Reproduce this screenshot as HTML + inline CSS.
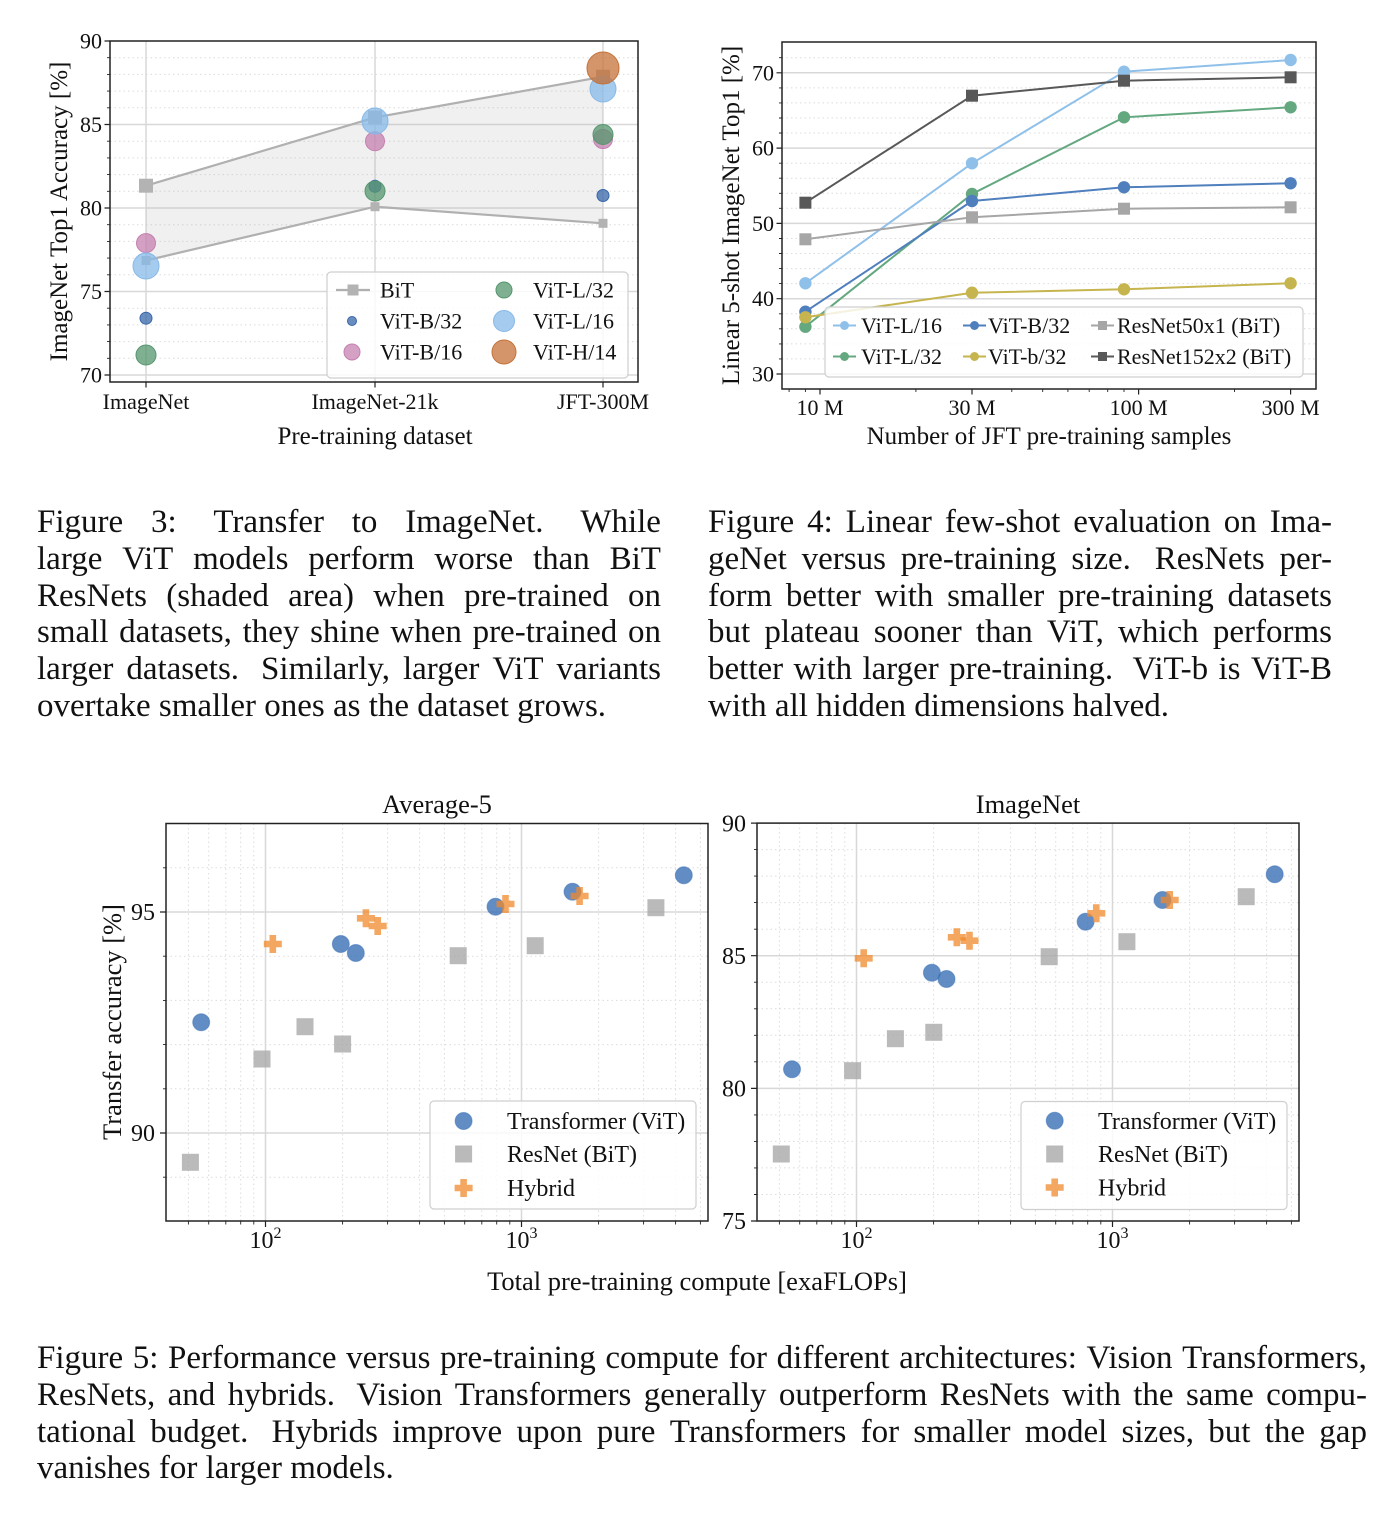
<!DOCTYPE html>
<html><head><meta charset="utf-8">
<style>
html,body{margin:0;padding:0;background:#fff}
body{width:1392px;height:1520px;position:relative;overflow:hidden}
svg{position:absolute;left:0;top:0}
svg text{font-family:"Liberation Serif","DejaVu Serif",serif;fill:#111}
.cap{position:absolute;font-family:"Liberation Serif","DejaVu Serif",serif;font-size:33px;color:#111}
.cap div{height:36.8px;line-height:36.8px;white-space:nowrap}
.j{display:flex;justify-content:space-between}
.j span{display:block}
.j span.e{padding-right:9px}
.vit{fill:#3a6fb5;fill-opacity:.8;stroke:#3a6fb5;stroke-opacity:.5;stroke-width:1}
.res{fill:#a6a6a6;fill-opacity:.78}
.hyb{fill:#f08a2c;fill-opacity:.75}
</style></head><body>
<svg width="1392" height="1520" viewBox="0 0 1392 1520" xmlns="http://www.w3.org/2000/svg">
<defs><path id="pl" d="M-3.3-9h6.6v5.7h5.7v6.6h-5.7v5.7h-6.6v-5.7h-5.7v-6.6h5.7z"/></defs>

<!-- ================= FIGURE 3 ================= -->
<rect x="110" y="41" width="528" height="341" fill="#fff"/>
<path stroke="#dcdcdc" stroke-width="1" stroke-dasharray="1.5 3" fill="none" d="M110 358.3H638M110 341.6H638M110 324.9H638M110 308.2H638M110 274.8H638M110 258.1H638M110 241.4H638M110 224.7H638M110 191.3H638M110 174.6H638M110 157.9H638M110 141.2H638M110 107.8H638M110 91.1H638M110 74.4H638M110 57.7H638"/>
<path stroke="#d8d8d8" stroke-width="1.5" fill="none" d="M110 375H638M110 291.5H638M110 208H638M110 124.5H638M146 41V382M375 41V382M603 41V382"/>
<polygon points="146,185.7 375,117.5 603,76.7 603,223.3 375,206.7 146,260.5" fill="#b4b4b4" fill-opacity="0.2"/>
<polyline points="146,185.7 375,117.5 603,76.7" fill="none" stroke="#b0b0b0" stroke-width="2.2"/>
<polyline points="146,260.5 375,206.7 603,223.3" fill="none" stroke="#b0b0b0" stroke-width="2.2"/>
<g fill="#b3b3b3">
<rect x="139" y="178.7" width="14" height="14"/><rect x="368" y="110.5" width="14" height="14"/><rect x="596" y="69.7" width="14" height="14"/>
<rect x="141.5" y="256" width="9" height="9"/><rect x="370.5" y="202.2" width="9" height="9"/><rect x="598.5" y="218.8" width="9" height="9"/>
</g>
<g fill-opacity="0.75" stroke-width="1">
<g fill="#3867ab" stroke="#3867ab"><circle cx="146" cy="318.2" r="6"/><circle cx="375" cy="186.3" r="6"/><circle cx="603" cy="195.5" r="6"/></g>
<g fill="#c580b0" stroke="#c580b0"><circle cx="146" cy="243.1" r="9.5"/><circle cx="375" cy="141.2" r="9.5"/><circle cx="603" cy="139" r="9.5"/></g>
<g fill="#55966e" stroke="#55966e"><circle cx="146" cy="355" r="10"/><circle cx="375" cy="191" r="10"/><circle cx="603" cy="134.5" r="10"/></g>
<g fill="#87b9e8" stroke="#87b9e8"><circle cx="146" cy="266" r="13"/><circle cx="375" cy="121" r="13"/><circle cx="603" cy="89" r="13"/></g>
<g fill="#c57238" stroke="#c57238"><circle cx="603" cy="68" r="16"/></g>
</g>
<rect x="110" y="41" width="528" height="341" fill="none" stroke="#222" stroke-width="1.5"/>
<path stroke="#222" stroke-width="1.2" fill="none" d="M104.5 375H110M104.5 291.5H110M104.5 208H110M104.5 124.5H110M104.5 41H110M146 382V387.5M375 382V387.5M603 382V387.5"/>
<path stroke="#222" stroke-width="0.9" fill="none" d="M107 358.3H110M107 341.6H110M107 324.9H110M107 308.2H110M107 274.8H110M107 258.1H110M107 241.4H110M107 224.7H110M107 191.3H110M107 174.6H110M107 157.9H110M107 141.2H110M107 107.8H110M107 91.1H110M107 74.4H110M107 57.7H110"/>
<g font-size="22" text-anchor="end">
<text x="102" y="382.5">70</text><text x="102" y="299">75</text><text x="102" y="215.5">80</text><text x="102" y="132">85</text><text x="102" y="48.5">90</text>
</g>
<g font-size="22" text-anchor="middle">
<text x="146" y="409">ImageNet</text><text x="375" y="409">ImageNet-21k</text><text x="603" y="409">JFT-300M</text>
</g>
<text x="375" y="444" font-size="25" text-anchor="middle">Pre-training dataset</text>
<text transform="translate(67,211.5) rotate(-90)" font-size="25" text-anchor="middle">ImageNet Top1 Accuracy [%]</text>
<!-- legend fig3 -->
<rect x="327" y="272" width="301" height="106" rx="4" fill="#fff" fill-opacity="0.82" stroke="#cfcfcf" stroke-width="1.2"/>
<path d="M336 290H370" stroke="#b0b0b0" stroke-width="2.2"/>
<rect x="347.5" y="284.5" width="11" height="11" fill="#b3b3b3"/>
<g fill-opacity="0.75" stroke-width="1">
<circle cx="352" cy="321" r="4.5" fill="#3867ab" stroke="#3867ab"/>
<circle cx="352" cy="352" r="8" fill="#c580b0" stroke="#c580b0"/>
<circle cx="504" cy="290" r="8" fill="#55966e" stroke="#55966e"/>
<circle cx="504" cy="321" r="10.5" fill="#87b9e8" stroke="#87b9e8"/>
<circle cx="504" cy="352" r="12" fill="#c57238" stroke="#c57238"/>
</g>
<g font-size="22">
<text x="380" y="297.5">BiT</text><text x="380" y="328.5">ViT-B/32</text><text x="380" y="359.5">ViT-B/16</text>
<text x="533" y="297.5">ViT-L/32</text><text x="533" y="328.5">ViT-L/16</text><text x="533" y="359.5">ViT-H/14</text>
</g>

<!-- ================= FIGURE 4 ================= -->
<rect x="782" y="42" width="534" height="347" fill="#fff"/>
<path stroke="#dcdcdc" stroke-width="1" stroke-dasharray="1.5 3" fill="none" d="M782 358.9H1316M782 343.9H1316M782 328.8H1316M782 313.8H1316M782 283.6H1316M782 268.6H1316M782 253.5H1316M782 238.5H1316M782 208.3H1316M782 193.3H1316M782 178.2H1316M782 163.2H1316M782 133H1316M782 118H1316M782 102.9H1316M782 87.9H1316M782 57.7H1316"/>
<path stroke="#d8d8d8" stroke-width="1.5" fill="none" d="M782 374H1316M782 298.7H1316M782 223.4H1316M782 148.1H1316M782 72.8H1316"/>
<g fill="none" stroke-width="2">
<polyline points="805.4,283.3 972,163.3 1124,71.7 1290.6,60" stroke="#8fc0ea"/>
<polyline points="805.4,326.7 972,194 1124,117.3 1290.6,107.3" stroke="#64a880"/>
<polyline points="805.4,311.7 972,201 1124,187.3 1290.6,183.3" stroke="#4f7fbd"/>
<polyline points="805.4,317.3 972,292.7 1124,289.3 1290.6,283.3" stroke="#c6b54e"/>
<polyline points="805.4,239.3 972,217.3 1124,208.7 1290.6,207.3" stroke="#a6a6a6"/>
<polyline points="805.4,202.7 972,95.7 1124,80.7 1290.6,77.3" stroke="#585858"/>
</g>
<g fill="#8fc0ea"><circle cx="805.4" cy="283.3" r="6.2"/><circle cx="972" cy="163.3" r="6.2"/><circle cx="1124" cy="71.7" r="6.2"/><circle cx="1290.6" cy="60" r="6.2"/></g>
<g fill="#64a880"><circle cx="805.4" cy="326.7" r="6.2"/><circle cx="972" cy="194" r="6.2"/><circle cx="1124" cy="117.3" r="6.2"/><circle cx="1290.6" cy="107.3" r="6.2"/></g>
<g fill="#4f7fbd"><circle cx="805.4" cy="311.7" r="6.2"/><circle cx="972" cy="201" r="6.2"/><circle cx="1124" cy="187.3" r="6.2"/><circle cx="1290.6" cy="183.3" r="6.2"/></g>
<g fill="#c6b54e"><circle cx="805.4" cy="317.3" r="6.2"/><circle cx="972" cy="292.7" r="6.2"/><circle cx="1124" cy="289.3" r="6.2"/><circle cx="1290.6" cy="283.3" r="6.2"/></g>
<g fill="#a6a6a6"><rect x="799.4" y="233.3" width="12" height="12"/><rect x="966" y="211.3" width="12" height="12"/><rect x="1118" y="202.7" width="12" height="12"/><rect x="1284.6" y="201.3" width="12" height="12"/></g>
<g fill="#585858"><rect x="799.4" y="196.7" width="12" height="12"/><rect x="966" y="89.7" width="12" height="12"/><rect x="1118" y="74.7" width="12" height="12"/><rect x="1284.6" y="71.3" width="12" height="12"/></g>
<rect x="782" y="42" width="534" height="347" fill="none" stroke="#222" stroke-width="1.5"/>
<path stroke="#222" stroke-width="1.2" fill="none" d="M776.5 374H782M776.5 298.7H782M776.5 223.4H782M776.5 148.1H782M776.5 72.8H782M820 389V394.5M972 389V394.5M1138.6 389V394.5M1290.6 389V394.5"/>
<path stroke="#222" stroke-width="0.9" fill="none" d="M779 358.9H782M779 343.9H782M779 328.8H782M779 313.8H782M779 283.6H782M779 268.6H782M779 253.5H782M779 238.5H782M779 208.3H782M779 193.3H782M779 178.2H782M779 163.2H782M779 133H782M779 118H782M779 102.9H782M779 87.9H782M779 57.7H782M789.1 389V392M805.4 389V392M915.9 389V392M1011.8 389V392M1042.7 389V392M1067.9 389V392M1089.2 389V392M1107.7 389V392M1124 389V392M1234.5 389V392"/>
<g font-size="22" text-anchor="end">
<text x="774" y="381.5">30</text><text x="774" y="306.2">40</text><text x="774" y="230.9">50</text><text x="774" y="155.6">60</text><text x="774" y="80.3">70</text>
</g>
<g font-size="22" text-anchor="middle">
<text x="820" y="415">10 M</text><text x="972" y="415">30 M</text><text x="1138.6" y="415">100 M</text><text x="1290.6" y="415">300 M</text>
</g>
<text x="1049" y="444" font-size="25" text-anchor="middle">Number of JFT pre-training samples</text>
<text transform="translate(739,215.5) rotate(-90)" font-size="25" text-anchor="middle">Linear 5-shot ImageNet Top1 [%]</text>
<!-- legend fig4 -->
<rect x="825" y="307" width="478" height="70" rx="4" fill="#fff" fill-opacity="0.82" stroke="#cfcfcf" stroke-width="1.2"/>
<g stroke-width="2">
<path d="M833 325.5H856" stroke="#8fc0ea"/><path d="M833 356.5H856" stroke="#64a880"/>
<path d="M963 325.5H986" stroke="#4f7fbd"/><path d="M963 356.5H986" stroke="#c6b54e"/>
<path d="M1091 325.5H1114" stroke="#a6a6a6"/><path d="M1091 356.5H1114" stroke="#585858"/>
</g>
<circle cx="844.5" cy="325.5" r="4.5" fill="#8fc0ea"/><circle cx="844.5" cy="356.5" r="4.5" fill="#64a880"/>
<circle cx="974.5" cy="325.5" r="4.5" fill="#4f7fbd"/><circle cx="974.5" cy="356.5" r="4.5" fill="#c6b54e"/>
<rect x="1098" y="321" width="9" height="9" fill="#a6a6a6"/><rect x="1098" y="352" width="9" height="9" fill="#585858"/>
<g font-size="22">
<text x="861" y="333">ViT-L/16</text><text x="861" y="364">ViT-L/32</text>
<text x="988" y="333">ViT-B/32</text><text x="988" y="364">ViT-b/32</text>
<text x="1117" y="333">ResNet50x1 (BiT)</text><text x="1117" y="364">ResNet152x2 (BiT)</text>
</g>

<!-- ================= FIGURE 5 LEFT ================= -->
<rect x="166" y="823.5" width="542" height="397.5" fill="#fff"/>
<path stroke="#dcdcdc" stroke-width="1" stroke-dasharray="1.5 3" fill="none" d="M166 867.8H708M166 956.2H708M166 1000.4H708M166 1044.6H708M166 1088.8H708M166 1177.2H708M188.4 823.5V1221M208.7 823.5V1221M225.8 823.5V1221M240.7 823.5V1221M253.8 823.5V1221M342.6 823.5V1221M387.6 823.5V1221M419.6 823.5V1221M444.4 823.5V1221M464.7 823.5V1221M481.8 823.5V1221M496.7 823.5V1221M509.8 823.5V1221M598.6 823.5V1221M643.6 823.5V1221M675.6 823.5V1221M700.4 823.5V1221"/>
<path stroke="#d8d8d8" stroke-width="1.5" fill="none" d="M166 912H708M166 1133H708M265.5 823.5V1221M521.5 823.5V1221"/>
<g class="vit">
<circle cx="201.2" cy="1022.3" r="8.5"/><circle cx="340.8" cy="944" r="8.5"/><circle cx="355.8" cy="953" r="8.5"/><circle cx="495.5" cy="906.7" r="8.5"/><circle cx="572.5" cy="891.7" r="8.5"/><circle cx="683.8" cy="875.3" r="8.5"/>
</g>
<g class="res">
<rect x="181.9" y="1153.8" width="17" height="17"/><rect x="253.5" y="1050.5" width="17" height="17"/><rect x="296.5" y="1018.2" width="17" height="17"/><rect x="334.1" y="1035.5" width="17" height="17"/><rect x="449.7" y="947.2" width="17" height="17"/><rect x="526.7" y="937.2" width="17" height="17"/><rect x="647.4" y="899.2" width="17" height="17"/>
</g>
<g class="hyb">
<use href="#pl" x="272.8" y="944"/><use href="#pl" x="365.9" y="918.3"/><use href="#pl" x="377.7" y="926"/><use href="#pl" x="505.5" y="904"/><use href="#pl" x="579.6" y="896"/>
</g>
<rect x="166" y="823.5" width="542" height="397.5" fill="none" stroke="#222" stroke-width="1.5"/>
<path stroke="#222" stroke-width="1.2" fill="none" d="M160 912H166M160 1133H166M265.5 1221V1227M521.5 1221V1227"/>
<path stroke="#222" stroke-width="0.9" fill="none" d="M163 867.8H166M163 956.2H166M163 1000.4H166M163 1044.6H166M163 1088.8H166M163 1177.2H166M188.4 1221V1224.5M208.7 1221V1224.5M225.8 1221V1224.5M240.7 1221V1224.5M253.8 1221V1224.5M342.6 1221V1224.5M387.6 1221V1224.5M419.6 1221V1224.5M444.4 1221V1224.5M464.7 1221V1224.5M481.8 1221V1224.5M496.7 1221V1224.5M509.8 1221V1224.5M598.6 1221V1224.5M643.6 1221V1224.5M675.6 1221V1224.5M700.4 1221V1224.5"/>
<g font-size="24" text-anchor="end"><text x="155" y="920.2">95</text><text x="155" y="1141.2">90</text></g>
<g font-size="24" text-anchor="middle">
<text x="265.5" y="1248">10<tspan font-size="16" dy="-10">2</tspan></text>
<text x="521.5" y="1248">10<tspan font-size="16" dy="-10">3</tspan></text>
</g>
<text x="437" y="813" font-size="26.5" text-anchor="middle">Average-5</text>
<text transform="translate(121,1022) rotate(-90)" font-size="26.5" text-anchor="middle">Transfer accuracy [%]</text>
<!-- legend left -->
<rect x="430" y="1101" width="266" height="108" rx="4" fill="#fff" fill-opacity="0.82" stroke="#cfcfcf" stroke-width="1.2"/>
<circle class="vit" cx="463.6" cy="1121" r="8.5"/>
<rect class="res" x="455.1" y="1145.5" width="17" height="17"/>
<use class="hyb" href="#pl" x="463.6" y="1188"/>
<g font-size="24"><text x="507" y="1129.2">Transformer (ViT)</text><text x="507" y="1162.2">ResNet (BiT)</text><text x="507" y="1196.2">Hybrid</text></g>

<!-- ================= FIGURE 5 RIGHT ================= -->
<rect x="757" y="823.1" width="542" height="397.9" fill="#fff"/>
<path stroke="#dcdcdc" stroke-width="1" stroke-dasharray="1.5 3" fill="none" d="M757 1194.5H1299M757 1167.9H1299M757 1141.4H1299M757 1114.9H1299M757 1061.8H1299M757 1035.3H1299M757 1008.8H1299M757 982.2H1299M757 929.2H1299M757 902.6H1299M757 876.1H1299M757 849.6H1299M779.4 823.1V1221M799.7 823.1V1221M816.8 823.1V1221M831.7 823.1V1221M844.8 823.1V1221M933.6 823.1V1221M978.6 823.1V1221M1010.6 823.1V1221M1035.4 823.1V1221M1055.7 823.1V1221M1072.8 823.1V1221M1087.7 823.1V1221M1100.8 823.1V1221M1189.6 823.1V1221M1234.6 823.1V1221M1266.6 823.1V1221M1291.4 823.1V1221"/>
<path stroke="#d8d8d8" stroke-width="1.5" fill="none" d="M757 1088.4H1299M757 955.7H1299M856.5 823.1V1221M1112.5 823.1V1221"/>
<g class="vit">
<circle cx="792" cy="1069.3" r="8.5"/><circle cx="931.9" cy="972.7" r="8.5"/><circle cx="946.5" cy="979" r="8.5"/><circle cx="1085.6" cy="921.7" r="8.5"/><circle cx="1162.5" cy="900" r="8.5"/><circle cx="1274.7" cy="874.3" r="8.5"/>
</g>
<g class="res">
<rect x="772.8" y="1145.5" width="17" height="17"/><rect x="844.1" y="1062.2" width="17" height="17"/><rect x="886.9" y="1030.2" width="17" height="17"/><rect x="925.3" y="1023.8" width="17" height="17"/><rect x="1040.7" y="948.2" width="17" height="17"/><rect x="1118.4" y="933.2" width="17" height="17"/><rect x="1237.7" y="888.2" width="17" height="17"/>
</g>
<g class="hyb">
<use href="#pl" x="863.7" y="958.3"/><use href="#pl" x="956.8" y="937.3"/><use href="#pl" x="969.5" y="940.7"/><use href="#pl" x="1096.3" y="913.3"/><use href="#pl" x="1169.7" y="900"/>
</g>
<rect x="757" y="823.1" width="542" height="397.9" fill="none" stroke="#222" stroke-width="1.5"/>
<path stroke="#222" stroke-width="1.2" fill="none" d="M751 1221H757M751 1088.4H757M751 955.7H757M751 823.1H757M856.5 1221V1227M1112.5 1221V1227"/>
<path stroke="#222" stroke-width="0.9" fill="none" d="M754 1194.5H757M754 1167.9H757M754 1141.4H757M754 1114.9H757M754 1061.8H757M754 1035.3H757M754 1008.8H757M754 982.2H757M754 929.2H757M754 902.6H757M754 876.1H757M754 849.6H757M779.4 1221V1224.5M799.7 1221V1224.5M816.8 1221V1224.5M831.7 1221V1224.5M844.8 1221V1224.5M933.6 1221V1224.5M978.6 1221V1224.5M1010.6 1221V1224.5M1035.4 1221V1224.5M1055.7 1221V1224.5M1072.8 1221V1224.5M1087.7 1221V1224.5M1100.8 1221V1224.5M1189.6 1221V1224.5M1234.6 1221V1224.5M1266.6 1221V1224.5M1291.4 1221V1224.5"/>
<g font-size="24" text-anchor="end"><text x="746" y="831.3">90</text><text x="746" y="963.9">85</text><text x="746" y="1096.6">80</text><text x="746" y="1229.2">75</text></g>
<g font-size="24" text-anchor="middle">
<text x="856.5" y="1248">10<tspan font-size="16" dy="-10">2</tspan></text>
<text x="1112.5" y="1248">10<tspan font-size="16" dy="-10">3</tspan></text>
</g>
<text x="1028" y="813" font-size="26.5" text-anchor="middle">ImageNet</text>
<!-- legend right -->
<rect x="1021" y="1101.5" width="266" height="108" rx="4" fill="#fff" fill-opacity="0.82" stroke="#cfcfcf" stroke-width="1.2"/>
<circle class="vit" cx="1054.7" cy="1120.7" r="8.5"/>
<rect class="res" x="1046.2" y="1145.5" width="17" height="17"/>
<use class="hyb" href="#pl" x="1054.7" y="1187.5"/>
<g font-size="24"><text x="1098" y="1128.9">Transformer (ViT)</text><text x="1098" y="1162.2">ResNet (BiT)</text><text x="1098" y="1195.7">Hybrid</text></g>

<text x="697" y="1290" font-size="26.5" text-anchor="middle">Total pre-training compute [exaFLOPs]</text>
</svg>

<div class="cap" style="left:37px;top:504px;width:624px">
<div class="j"><span>Figure</span><span class="e">3:</span><span>Transfer</span><span>to</span><span class="e">ImageNet.</span><span>While</span></div>
<div class="j"><span>large</span><span>ViT</span><span>models</span><span>perform</span><span>worse</span><span>than</span><span>BiT</span></div>
<div class="j"><span>ResNets</span><span>(shaded</span><span>area)</span><span>when</span><span>pre-trained</span><span>on</span></div>
<div class="j"><span>small</span><span>datasets,</span><span>they</span><span>shine</span><span>when</span><span>pre-trained</span><span>on</span></div>
<div class="j"><span>larger</span><span class="e">datasets.</span><span>Similarly,</span><span>larger</span><span>ViT</span><span>variants</span></div>
<div>overtake smaller ones as the dataset grows.</div>
</div>

<div class="cap" style="left:708px;top:504px;width:624px">
<div class="j"><span>Figure</span><span>4:</span><span>Linear</span><span>few-shot</span><span>evaluation</span><span>on</span><span>Ima-</span></div>
<div class="j"><span>geNet</span><span>versus</span><span>pre-training</span><span class="e">size.</span><span>ResNets</span><span>per-</span></div>
<div class="j"><span>form</span><span>better</span><span>with</span><span>smaller</span><span>pre-training</span><span>datasets</span></div>
<div class="j"><span>but</span><span>plateau</span><span>sooner</span><span>than</span><span>ViT,</span><span>which</span><span>performs</span></div>
<div class="j"><span>better</span><span>with</span><span>larger</span><span class="e">pre-training.</span><span>ViT-b</span><span>is</span><span>ViT-B</span></div>
<div>with all hidden dimensions halved.</div>
</div>

<div class="cap" style="left:37px;top:1340px;width:1330px">
<div class="j"><span>Figure</span><span>5:</span><span>Performance</span><span>versus</span><span>pre-training</span><span>compute</span><span>for</span><span>different</span><span>architectures:</span><span>Vision</span><span>Transformers,</span></div>
<div class="j"><span>ResNets,</span><span>and</span><span class="e">hybrids.</span><span>Vision</span><span>Transformers</span><span>generally</span><span>outperform</span><span>ResNets</span><span>with</span><span>the</span><span>same</span><span>compu-</span></div>
<div class="j"><span>tational</span><span class="e">budget.</span><span>Hybrids</span><span>improve</span><span>upon</span><span>pure</span><span>Transformers</span><span>for</span><span>smaller</span><span>model</span><span>sizes,</span><span>but</span><span>the</span><span>gap</span></div>
<div>vanishes for larger models.</div>
</div>
</body></html>
